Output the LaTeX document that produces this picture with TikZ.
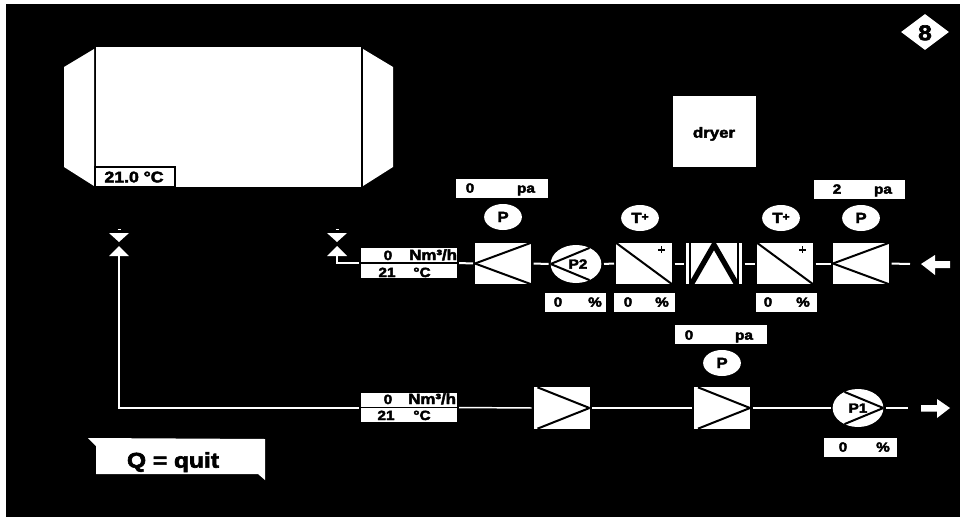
\documentclass[tikz,border=0pt]{standalone}
\usepackage{fontspec}
\setmainfont{Liberation Sans}[BoldFeatures={FakeBold=3,FakeStretch=1.15}]
\usetikzlibrary{shapes.geometric}
\newcommand{\fs}[1]{\fontsize{#1}{#1}\selectfont\bfseries}
\newcommand{\tplus}{T\raisebox{2pt}{\fontsize{8}{8}\selectfont\bfseries +}}
\tikzset{
  whitebox/.style={fill=white,draw=none,inner sep=0pt,outer sep=0pt,minimum width=#1*0.75pt},
  filterbox/.style={fill=white,draw=none,inner sep=0pt,outer sep=0pt,minimum width=42pt,minimum height=31pt},
  readout/.style={whitebox=#1,minimum height=14.25pt},
  flowbox/.style={whitebox=96,minimum height=22pt},
  gauge/.style={ellipse,fill=white,draw=none,inner sep=0pt,minimum width=27pt,minimum height=19.5pt,text width=20pt,align=center,text height=7.5pt,text depth=0pt,font=\fs{11}},
  pump/.style={ellipse,fill=white,draw=none,inner sep=0pt,outer sep=0pt,minimum width=38pt,minimum height=28.5pt},
  txt/.style={inner sep=0pt,text=black,text height=7pt,text depth=0pt,font=\fs{10}},
  flowtxt/.style={inner sep=0pt,text=black,font=\fs{10}},
  pipe/.style={draw=white,line width=1.1pt,shorten <=2pt,shorten >=1.5pt},
  blk/.style={draw=black,line width=1.5pt},
}
\begin{document}
\begin{tikzpicture}[x=0.75pt,y=-0.75pt]
\fill[white] (0,0) rectangle (960,517);
\useasboundingbox (0,0) rectangle (960,517);
\fill[black] (5.5,4.5) rectangle (960,517);
% tank
\fill[white] (94,49) -- (64,67) -- (64,167) -- (94,186) -- cycle;
\fill[white] (363,49) -- (393,67) -- (393,167) -- (363,186) -- cycle;
\node[fill=white,inner sep=0pt,outer sep=0pt,minimum width=199.5pt,minimum height=104.5pt] (tank) at (228.5,117) {};
\draw[black,line width=1pt] (tank.north west) -- (tank.south west);
\draw[black,line width=1pt] (tank.north east) -- (tank.south east);
\node[fill=white,draw=black,line width=1pt,inner sep=0pt,minimum width=60pt,minimum height=15pt] (tanktemp) at (135,177) {};
\node[txt,font=\fs{11.5},text height=8pt] (tanktemptxt) at (134,177) {21.0 °C};
% badge
\node[diamond,fill=white,inner sep=0pt,minimum width=36pt,minimum height=27pt] (badge) at (925,32) {};
\node[txt,font=\fs{16},text height=11.5pt] (badgetxt) at (925,32.5) {8};
% dryer
\node[fill=white,inner sep=0pt,minimum width=62pt,minimum height=53pt] (dryer) at (714.5,131.5) {};
\node[txt,font=\fs{11}] (dryertxt) at (714,133) {dryer};
% valves
\foreach \n/\x in {vl/119,vr/337}{
  \coordinate (\n) at (\x,244);
  \coordinate (\n b) at (\x,256);
  \fill[white] (\x-10,233) -- (\x+10,233) -- (\x,242) -- cycle;
  \fill[white] (\x-10,256) -- (\x+10,256) -- (\x,246) -- cycle;
  \draw[white,line width=0.4pt] (\x-1.5,229.5) -- (\x+1.5,229.5);
}
% flow boxes
\node[flowbox] (fa) at (408.5,263) {};
\node[flowbox] (fb) at (408.5,407.5) {};
\begin{scope}
\clip (360,240) rectangle (456,430);
\node[flowtxt,font=\fs{11},anchor=base west] (nma) at (409,260) {Nm³/h};
\node[flowtxt,font=\fs{11},anchor=base west] (nmb) at (408,404) {Nm³/h};
\end{scope}
\node[flowtxt,anchor=base] (za) at (388,260) {0};
\node[flowtxt,anchor=base] (ta) at (387,277) {21};
\node[flowtxt,anchor=base] (ca) at (422,277) {°C};
\node[flowtxt,anchor=base] (zb) at (388,404) {0};
\node[flowtxt,anchor=base] (tb) at (386,420) {21};
\node[flowtxt,anchor=base] (cb) at (422,420) {°C};
\draw[black,line width=1.2pt] (fa.west) -- (fa.east);
\draw[black,line width=1.2pt] (fb.west) -- (fb.east);
% equipment top row
\node[filterbox] (f1) at (503,263.5) {};
\node[pump] (p2) at (576,264) {};
\node[filterbox] (th1) at (644,263.5) {};
\node[filterbox] (heat) at (714,263.5) {};
\node[filterbox] (th2) at (785,263.5) {};
\node[filterbox] (f2) at (861,263.5) {};
\coordinate (inlet) at (910,264);
% equipment bottom row
\node[filterbox] (f3) at (561.5,408) {};
\node[filterbox] (f4) at (722,408) {};
\node[pump] (p1) at (858,408) {};
\coordinate (outlet) at (908,408);
% internals
\foreach \n in {f1,f2}{
  \draw[blk] (\n.west) -- (\n.north east);
  \draw[blk] (\n.west) -- (\n.south east);
}
\foreach \n in {f3,f4}{
  \draw[blk] (\n.east) -- ([xshift=3pt]\n.north west);
  \draw[blk] (\n.east) -- ([xshift=3pt]\n.south west);
}
\foreach \n in {th1,th2}{
  \draw[blk] (\n.north west) -- (\n.south east);
  \draw[black,line width=1.4pt] ([xshift=-10.5pt,yshift=-5.25pt]\n.north east) -- ++(7,0);
  \draw[black,line width=1.4pt] ([xshift=-7.9pt,yshift=-2.6pt]\n.north east) -- ++(0,7);
}
\draw[black,line width=2pt] ([xshift=3pt]heat.north west) -- ([xshift=3pt]heat.south west);
\draw[black,line width=2pt] ([xshift=-3pt]heat.north east) -- ([xshift=-3pt]heat.south east);
\draw[black,line width=4pt,line join=miter] ([xshift=4pt]heat.south west) -- ([yshift=-1.5pt]heat.north) -- ([xshift=-4pt]heat.south east);
\draw[blk] (p2.west) -- (p2.50);
\draw[blk] (p2.west) -- (p2.-50);
\draw[blk] (p1.east) -- (p1.130);
\draw[blk] (p1.east) -- (p1.-130);
\node[txt] (p2t) at (578,264) {P2};
\node[txt] (p1t) at (858,408) {P1};
% gauges
\node[gauge] (g1) at (503,217) {P};
\node[gauge] (g2) at (640,218) {\tplus};
\node[gauge] (g3) at (781,218) {\tplus};
\node[gauge] (g4) at (861,218) {P};
\node[gauge] (g5) at (722,363) {P};
% readouts
\node[readout=92] (r1) at (502,188.5) {};
\node[txt] (r1a) at (470,188) {0};
\node[txt] (r1b) at (526,188) {pa};
\node[readout=91] (r2) at (859.5,189.5) {};
\node[txt] (r2a) at (837,189) {2};
\node[txt] (r2b) at (883,189) {pa};
\node[readout=92] (r3) at (721,334.5) {};
\node[txt] (r3a) at (689,335) {0};
\node[txt] (r3b) at (744,335) {pa};
\node[readout=61] (r4) at (575.5,302) {};
\node[txt] (r4a) at (558,302) {0};
\node[txt] (r4b) at (595,302) {\%};
\node[readout=61] (r5) at (644.5,302) {};
\node[txt] (r5a) at (628,302) {0};
\node[txt] (r5b) at (662,302) {\%};
\node[readout=61] (r6) at (786.5,302) {};
\node[txt] (r6a) at (768,302) {0};
\node[txt] (r6b) at (803,302) {\%};
\node[readout=73] (r7) at (860.5,447.5) {};
\node[txt] (r7a) at (843,447) {0};
\node[txt] (r7b) at (883,447) {\%};
% pipes
\draw[pipe,shorten <=0pt,shorten >=1.5pt,line width=1.5pt] (vlb) |- (fb.west);
\draw[pipe,shorten <=0pt,shorten >=1.5pt,line width=1.5pt] (vrb) |- (fa.west);
\draw[pipe,line width=1.5pt] (fa.east) -- (f1.west);
\draw[pipe,line width=1.5pt] (f1.east) -- (p2.west);
\draw[pipe,line width=1.5pt] (p2.east) -- (th1.west);
\draw[pipe,line width=1.5pt] (th1.east) -- (heat.west);
\draw[pipe,line width=1.5pt] (heat.east) -- (th2.west);
\draw[pipe,line width=1.5pt] (th2.east) -- (f2.west);
\draw[pipe,line width=1.5pt,shorten >=0pt] (f2.east) -- (inlet);
\draw[pipe] (fb.east) -- (f3.west);
\draw[pipe] (f3.east) -- (f4.west);
\draw[pipe] (f4.east) -- (p1.west);
\draw[pipe,shorten >=0pt] (p1.east) -- (outlet);
% arrows
\fill[white] (921,264) -- (935,255) -- (935,261) -- (950,261) -- (950,268) -- (935,268) -- (935,275) -- cycle;
\fill[white] (950,408) -- (937,399) -- (937,405) -- (921,405) -- (921,411.5) -- (937,411.5) -- (937,418) -- cycle;
% quit
\fill[white] (88,438) -- (265,439) -- (265,480) -- (258,474) -- (96,474) -- (96,446) -- cycle;
\node[txt,font=\fs{16},text height=11.5pt] (quit) at (173,460) {Q = quit};
\end{tikzpicture}
\end{document}
